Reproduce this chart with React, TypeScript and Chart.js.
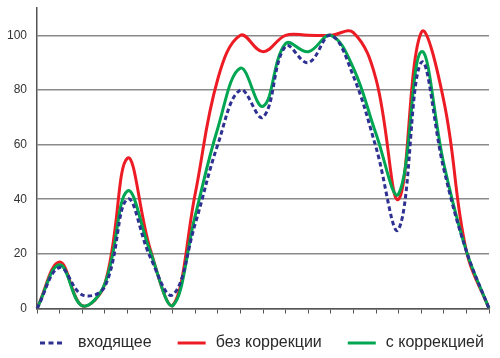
import React, { useEffect, useRef } from 'react';
import { Chart, registerables } from 'chart.js';

Chart.register(...registerables);

const categories = ['1', '2', '3', '4', '5', '6', '7', '8', '9', '10', '11', '12', '13', '14', '15', '16', '17', '18', '19', '20', '21'];
const yTicks = [0, 20, 40, 60, 80, 100];

const seriesNames = ['входящее', 'без коррекции', 'с коррекцией'];
const incoming = [0, 15, 5, 8, 40, 19, 5, 31, 60, 80, 70, 96, 90, 100, 85, 59, 29, 90, 51, 21, 0];
const noCorrection = [0, 17, 1, 9, 55, 22, 1, 42, 84, 100, 94, 100, 100, 100, 101, 84, 40, 101, 76, 21, 0];
const withCorrection = [0, 16, 1, 9, 43, 21, 1, 34, 66, 88, 74, 97, 94, 100, 88, 64, 42, 94, 53, 21, 0];

const FONT = '"Liberation Sans", Arial, Helvetica, sans-serif';

const bottomLegend = {
  id: 'bottomLegend',
  afterDraw(chart: any) {
    const ctx = chart.ctx as CanvasRenderingContext2D;
    const area = chart.chartArea;
    const y = chart.height - 15;
    ctx.save();
    ctx.font = `16px ${FONT}`;
    ctx.textBaseline = 'middle';
    ctx.textAlign = 'left';
    let x = area.left + 3;
    const sampleW = 28;
    const gap = 10;
    const itemGap = 26;
    chart.data.datasets.forEach((ds: any) => {
      ctx.beginPath();
      ctx.strokeStyle = ds.borderColor;
      ctx.lineWidth = ds.borderWidth;
      const dashed = ds.borderDash && ds.borderDash.length;
      ctx.setLineDash(dashed ? [5, 3.5] : []);
      ctx.moveTo(x, y);
      ctx.lineTo(x + (dashed ? 22 : sampleW), y);
      ctx.stroke();
      ctx.setLineDash([]);
      x += sampleW + gap;
      ctx.fillStyle = '#2a2a2a';
      ctx.fillText(ds.label, x, y);
      x += ctx.measureText(ds.label).width + itemGap;
    });
    ctx.restore();
  },
};

export default function App() {
  const ref = useRef<HTMLCanvasElement | null>(null);

  useEffect(() => {
    if (!ref.current) return;
    const chart = new Chart(ref.current, {
      type: 'line',
      data: {
        labels: categories,
        datasets: [
          {
            label: seriesNames[0],
            data: incoming,
            borderColor: '#2e3192',
            borderWidth: 3,
            borderDash: [4.5, 3],
            order: 0,
          },
          {
            label: seriesNames[1],
            data: noCorrection,
            borderColor: '#ed1c24',
            borderWidth: 3,
            order: 2,
          },
          {
            label: seriesNames[2],
            data: withCorrection,
            borderColor: '#00a651',
            borderWidth: 3,
            order: 1,
          },
        ],
      },
      options: {
        animation: false,
        responsive: false,
        layout: { padding: { top: 8, right: 11, bottom: 44.5, left: 0 } },
        plugins: { legend: { display: false }, tooltip: { enabled: false } },
        elements: {
          point: { radius: 0 },
          line: { tension: 0.4, fill: false },
        },
        scales: {
          x: {
            type: 'category',
            offset: false,
            grid: { drawOnChartArea: false, drawTicks: true, tickLength: 5, color: '#555', lineWidth: 1 },
            border: { display: true, color: '#555', width: 1.5 },
            ticks: { display: false, autoSkip: false },
          },
          y: {
            min: 0,
            max: 110,
            afterBuildTicks: (s: any) => {
              s.ticks = yTicks.map((v) => ({ value: v }));
            },
            afterFit: (s: any) => {
              s.width = 37;
              s.paddingTop = 0;
              s.paddingBottom = 0;
            },
            grid: { color: '#8a8a8a', lineWidth: 1.5, drawTicks: false },
            border: { display: true, color: '#555', width: 1.5 },
            ticks: { padding: 10, color: '#333', font: { size: 12, family: FONT } },
          },
        },
      },
      plugins: [bottomLegend],
    });
    return () => chart.destroy();
  }, []);

  return (
    <div style={{ position: 'absolute', left: 0, top: 0, width: 500, height: 358, background: '#fff' }}>
      <canvas ref={ref} width={500} height={358} style={{ display: 'block' }} />
    </div>
  );
}
